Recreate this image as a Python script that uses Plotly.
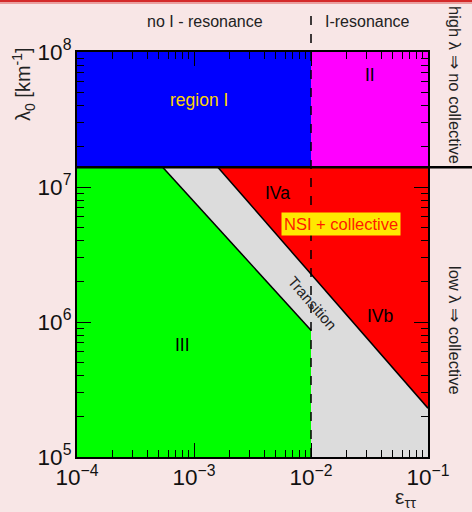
import numpy as np
import plotly.graph_objects as go

# ---- data ----
eps_min, eps_res, eps_max = 1e-4, 1e-2, 1e-1
lam_min, lam_split, lam_max = 1e5, 1.4e7, 1e8

blue_x = [1e-4, 1e-2, 1e-2, 1e-4]
blue_y = [1.4e7, 1.4e7, 1e8, 1e8]
mag_x = [1e-2, 1e-1, 1e-1, 1e-2]
mag_y = [1.4e7, 1.4e7, 1e8, 1e8]
gray_x = [1e-4, 1e-1, 1e-1, 1e-4]
gray_y = [1e5, 1e5, 1.4e7, 1.4e7]
green_x = [1e-4, 5.4e-4, 1e-2, 1e-2, 1e-4]
green_y = [1.4e7, 1.4e7, 8.7e5, 1e5, 1e5]
red_x = [1.6e-3, 1e-1, 1e-1]
red_y = [1.4e7, 1.4e7, 2.3e5]
green_edge_x = [5.4e-4, 1e-2]
green_edge_y = [1.4e7, 8.7e5]
red_edge_x = [1.6e-3, 1e-1]
red_edge_y = [1.4e7, 2.3e5]

labels = [
    ("region I", 1.1e-3, 4.4e7, "#ffd400", 17.5, 0),
    ("II", 3.2e-2, 6.8e7, "black", 17.5, 0),
    ("IVa", 5.2e-3, 9.0e6, "black", 17.5, 0),
    ("IVb", 3.9e-2, 1.1e6, "black", 17.5, 0),
    ("III", 8.0e-4, 6.8e5, "black", 17.5, 0),
    ("Transition", 1.04e-2, 1.38e6, "#222222", 15, 49),
]
nsi_label = ("NSI + collective", 1.8e-2, 5.3e6)

x_decades = [1e-4, 1e-3, 1e-2]
y_decades = [1e5, 1e6, 1e7]
mult = [2, 3, 4, 5, 6, 7, 8, 9]

FONT = "Arial, Liberation Sans, sans-serif"
BG = "#f8e6e6"

fig = go.Figure()

def poly(x, y, color):
    fig.add_trace(go.Scatter(x=x, y=y, fill="toself", fillcolor=color, mode="lines",
                             line=dict(width=0, color=color), hoverinfo="skip", showlegend=False))

poly(gray_x, gray_y, "#dcdcdc")
poly(blue_x, blue_y, "#0000ff")
poly(mag_x, mag_y, "#ff00ff")
poly(green_x, green_y, "#00ff00")
poly(red_x, red_y, "#ff0000")

for ex, ey in [(green_edge_x, green_edge_y), (red_edge_x, red_edge_y)]:
    fig.add_trace(go.Scatter(x=ex, y=ey, mode="lines", line=dict(color="black", width=1.5),
                             hoverinfo="skip", showlegend=False))

for txt, x, y, col, sz, ang in labels:
    fig.add_annotation(x=np.log10(x), y=np.log10(y), xref="x", yref="y", text=txt, showarrow=False,
                       textangle=ang, font=dict(family=FONT, size=sz, color=col))

fig.add_annotation(x=np.log10(nsi_label[1]), y=np.log10(nsi_label[2]), xref="x", yref="y",
                   text=nsi_label[0], showarrow=False,
                   bgcolor="#ffe800", borderpad=2, font=dict(family=FONT, size=16.5, color="#ff1a00"))

def paper_ann(text, px, py, size=16, angle=0):
    fig.add_annotation(x=(px - 77) / 351, y=(457 - py) / 405, xref="paper", yref="paper",
                       xanchor="center", yanchor="middle", text=text, textangle=angle,
                       showarrow=False, font=dict(family=FONT, size=size, color="#222"))

paper_ann("no I - resonance", 205, 22)
paper_ann("I-resonance", 367, 22)
paper_ann("high λ ⇒ no collective", 455, 85, size=16.5, angle=90)
paper_ann("low λ ⇒ collective", 455, 330, size=16.5, angle=90)
paper_ann("λ<sub>0</sub> [km<sup>-1</sup>]", 23, 84, size=20, angle=-90)
paper_ann("ε<sub>ττ</sub>", 405, 498, size=21)

# lines
fig.add_shape(type="line", xref="paper", yref="y", x0=0, x1=(472 - 77) / 351,
              y0=lam_split, y1=lam_split, line=dict(color="black", width=2.5), layer="above")
fig.add_shape(type="line", xref="x", yref="paper", x0=eps_res, x1=eps_res,
              y0=0, y1=(457 - 12) / 405, line=dict(color="black", width=1.5, dash="dash"), layer="above")
# top red stripe
fig.add_shape(type="rect", xref="paper", yref="paper", x0=-77 / 351, x1=395 / 351,
              y0=(457 - 2) / 405, y1=(457 + 2) / 405, line=dict(width=0), fillcolor="#d42a2a")
fig.add_shape(type="rect", xref="paper", yref="paper", x0=-77 / 351, x1=395 / 351,
              y0=(457 - 4) / 405, y1=(457 - 2) / 405, line=dict(width=0), fillcolor="#eaa0a0")

# minor tick overlay axes
x_minor = [m * d for d in x_decades for m in mult]
y_minor = [m * d for d in y_decades for m in mult]
fig.add_trace(go.Scatter(x=[eps_min], y=[lam_min], xaxis="x2", yaxis="y2", mode="markers",
                         marker=dict(opacity=0), hoverinfo="skip", showlegend=False))

axis_common = dict(type="log", showline=True, linecolor="black", linewidth=2, mirror="ticks",
                   ticks="inside", tickwidth=1, tickcolor="black",
                   showgrid=False, zeroline=False)

fig.update_layout(
    width=472, height=512, margin=dict(l=77, r=44, t=52, b=55),
    paper_bgcolor=BG, plot_bgcolor="#dcdcdc", showlegend=False,
    xaxis=dict(range=[-4, -1], dtick=1, ticklen=14, exponentformat="power",
               tickfont=dict(family=FONT, size=18, color="#111"), **axis_common),
    yaxis=dict(range=[5, 8], dtick=1, ticklen=14, exponentformat="power",
               tickfont=dict(family=FONT, size=18, color="#111"), **axis_common),
    xaxis2=dict(range=[-4, -1], overlaying="x", tickvals=x_minor, ticklen=7,
                showticklabels=False, side="bottom", anchor="y2", **axis_common),
    yaxis2=dict(range=[5, 8], overlaying="y", tickvals=y_minor, ticklen=7,
                showticklabels=False, side="left", anchor="x2", **axis_common),
)
fig.write_html("out.html")
